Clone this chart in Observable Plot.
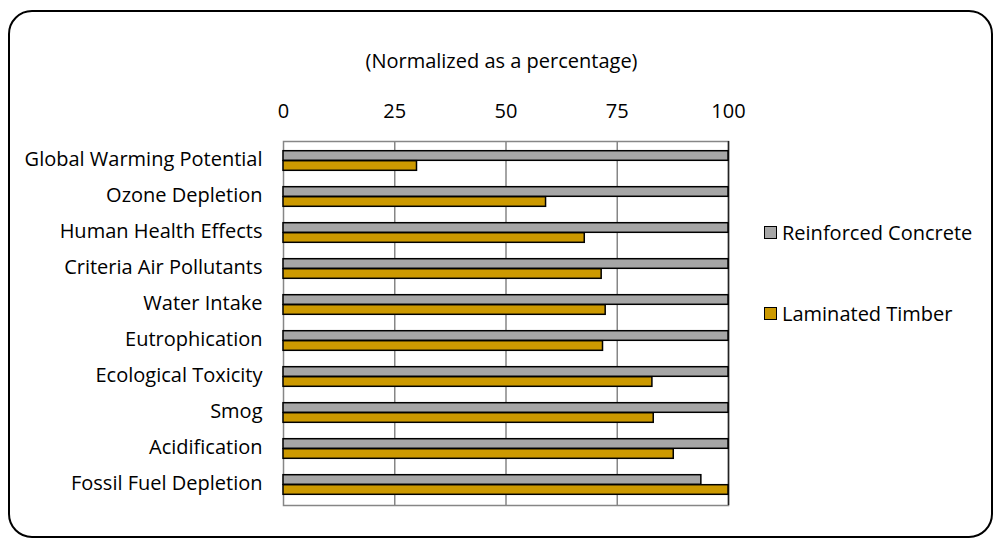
<!DOCTYPE html>
<html>
<head>
<meta charset="utf-8">
<script src="https://cdn.jsdelivr.net/npm/d3@7"></script>
<script src="https://cdn.jsdelivr.net/npm/@observablehq/plot@0.6"></script>
<style>
  body { margin: 0; background: #fff; font-family: "Open Sans", sans-serif; }
  #wrap { position: relative; width: 1000px; height: 545px; overflow: hidden; }
  #border { position: absolute; left: 8px; top: 10px; width: 981px; height: 524px;
            border: 2px solid #000; border-radius: 24px; pointer-events: none; }
  #title { position: absolute; left: 0; width: 1003px; top: 47px; text-align: center;
           font-size: 20px; color: #000; }
  .leg { position: absolute; left: 764px; font-size: 20px; color: #000; display: flex; align-items: center; }
  .sw { width: 11px; height: 11px; border: 1.5px solid #000; margin-right: 5px; }
  #chart { position: absolute; left: 0; top: 0; }
</style>
</head>
<body>
<div id="wrap">
  <div id="chart"></div>
  <div id="title">(Normalized as a percentage)</div>
  <div id="legend"></div>
  <div id="border"></div>
</div>
<script>
const categories = [
  "Global Warming Potential",
  "Ozone Depletion",
  "Human Health Effects",
  "Criteria Air Pollutants",
  "Water Intake",
  "Eutrophication",
  "Ecological Toxicity",
  "Smog",
  "Acidification",
  "Fossil Fuel Depletion"
];
const seriesNames = ["Reinforced Concrete", "Laminated Timber"];
const concrete = [100, 100, 100, 100, 100, 100, 100, 100, 100, 93.9];
const timber = [30.0, 59.0, 67.7, 71.5, 72.4, 71.8, 82.9, 83.2, 87.7, 100];
const xTicks = [0, 25, 50, 75, 100];
const colors = ["#A6A6A6", "#CC9900"];

const concreteRows = categories.map((c, i) => ({category: c, series: seriesNames[0], value: concrete[i]}));
const timberRows = categories.map((c, i) => ({category: c, series: seriesNames[1], value: timber[i]}));

const plot = Plot.plot({
  width: 1000,
  height: 545,
  marginLeft: 283,
  marginRight: 272,
  marginTop: 141,
  marginBottom: 40,
  style: {fontFamily: "'Open Sans', sans-serif", fontSize: "20px", color: "#000", background: "transparent"},
  x: {domain: [0, 100], label: null},
  y: {domain: categories, padding: 0, label: null},
  color: {domain: seriesNames, range: colors},
  marks: [
    Plot.axisX(xTicks, {anchor: "top", tickSize: 0, tickPadding: 24, label: null}),
    Plot.axisY({tickSize: 0, tickPadding: 21, dy: -1.5, label: null}),
    Plot.ruleX(xTicks.slice(1, 4), {stroke: "#868686", strokeWidth: 1.5, strokeOpacity: 1}),
    Plot.frame({stroke: "#868686", strokeWidth: 1.5}),
    Plot.ruleX([100], {stroke: "#222", strokeWidth: 1.5}),
    Plot.barX(concreteRows, {x: "value", y: "category", fill: "series", stroke: "#000", strokeWidth: 1.5, insetTop: 7.7, insetBottom: 18.7}),
    Plot.barX(timberRows, {x: "value", y: "category", fill: "series", stroke: "#000", strokeWidth: 1.5, insetTop: 17.7, insetBottom: 8.7})
  ]
});
document.getElementById("chart").appendChild(plot);

const legend = document.getElementById("legend");
const legTops = [219, 300];
seriesNames.forEach((name, i) => {
  const d = document.createElement("div");
  d.className = "leg";
  d.style.top = legTops[i] + "px";
  const sw = document.createElement("div");
  sw.className = "sw";
  sw.style.background = colors[i];
  d.appendChild(sw);
  d.appendChild(document.createTextNode(name));
  legend.appendChild(d);
});
</script>
</body>
</html>
